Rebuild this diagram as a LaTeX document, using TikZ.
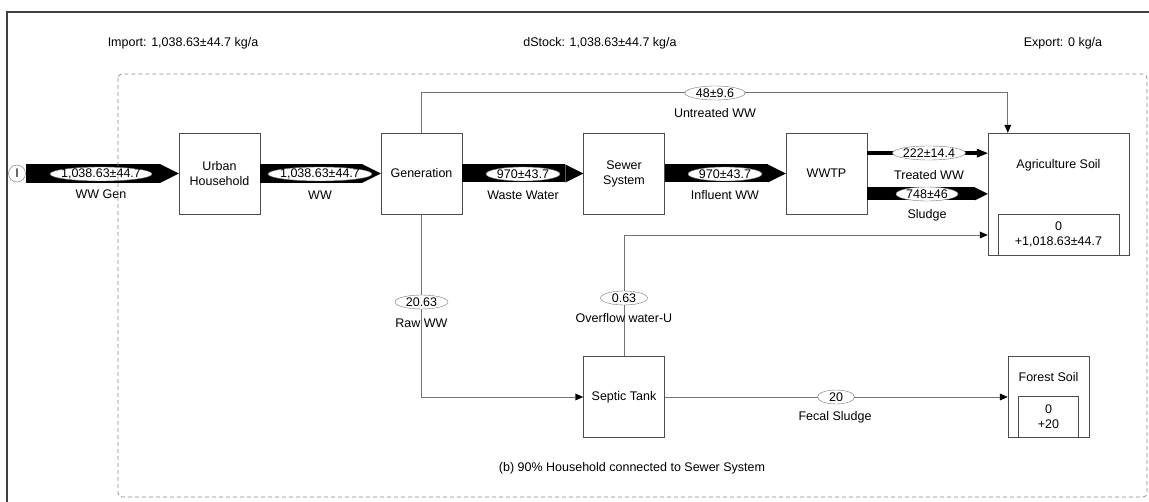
\documentclass[tikz,border=0pt]{standalone}
\usepackage{fontspec}
\setmainfont{Liberation Sans}
\usetikzlibrary{positioning,calc,arrows.meta,shapes.geometric}
\tikzset{
    every node/.style={font=\fontsize{12.5}{15}\selectfont},
    box/.style={draw=black!70, fill=white, minimum width=81pt, minimum height=81pt, inner sep=0pt, align=center},
    stockbox/.style={draw=black!70, fill=white, inner sep=0pt, align=center},
    val/.style={ellipse, draw=black!55, fill=white, inner xsep=-30pt, inner ysep=-10pt, minimum width=#1, minimum height=14pt},
    fatflow/.style={line width=#1, -{Triangle[length=#1, width=#1, line width=0pt]}},
    midflow/.style={line width=4.5pt, -{Triangle[length=11pt, width=9pt, line width=0pt]}},
    flow/.style={draw=black!55, line width=0.9pt, -{Triangle[length=8pt, width=7pt, line width=0pt, black]}},
}

\begin{document}
\begin{tikzpicture}[x=1pt, y=-1pt]
  \useasboundingbox (0,0) rectangle (1149,502);
  \draw[black!75, line width=1.2pt] (7,502) -- (7,12) -- (1149,12);
  \node (import) at (183,43) {Import: 1,038.63±44.7 kg/a};
  \node (dstock) at (600,43) {dStock: 1,038.63±44.7 kg/a};
  \node (export) at (1063,43) {Export: 0 kg/a};

  % processes
  \node[circle, draw=black!55, minimum size=17pt, inner sep=0pt] (imp) at (17,173.5) {I};
  \node[box] (house) at (219.5,173.5) {Urban\\Household};
  \node[box] (gen) at (421.5,173.5) {Generation};
  \node[box] (sewer) at (624,173.5) {Sewer\\System};
  \node[box] (wwtp) at (826.5,173.5) {WWTP};
  \node[box] (septic) at (624,397) {Septic Tank};
  \node[box, minimum width=141pt, minimum height=122pt] (agri) at (1058.5,194) {};
  \node (agri-t) at ($(agri.north)+(0,32)$) {Agriculture Soil};
  \node[stockbox, minimum width=121pt, minimum height=41pt, anchor=south] (agri-s) at (agri.south) {0\\+1,018.63±44.7};
  \node[box] (forest) at (1048.5,396.5) {};
  \node (forest-t) at ($(forest.north)+(0,21)$) {Forest Soil};
  \node[stockbox, minimum width=60pt, minimum height=41pt, anchor=south] (forest-s) at (forest.south) {0\\+20};

  % flows
  \coordinate (tw) at ($(wwtp.north east)!.25!(wwtp.south east)$);
  \coordinate (sl) at ($(wwtp.north east)!.75!(wwtp.south east)$);
  \draw[fatflow=19pt] (imp.east) -- (house.west);
  \draw[fatflow=19pt] (house.east) -- (gen.west);
  \draw[fatflow=18pt] (gen.east) -- (sewer.west);
  \draw[fatflow=18pt] (sewer.east) -- (wwtp.west);
  \draw[midflow] (tw) -- (tw -| agri.west);
  \draw[fatflow=13pt] (sl) -- (sl -| agri.west);
  \draw[flow] (gen.north) -- ++(0,-40) -| ($(agri.north west)+(20,0)$);
  \draw[flow] (gen.south) |- (septic.west);
  \draw[flow] (septic.north) |- ($(agri.west)+(0,41)$);
  \draw[flow] (septic.east) -- (septic.east -| forest.west);

  % values and names of the flows
  \node[val=102pt] (v-wwgen) at (101,174) {1,038.63±44.7};
  \node (l-wwgen) at (101,194) {WW Gen};
  \node[val=104pt] (v-ww) at (320,174) {1,038.63±44.7};
  \node (l-ww) at (320,195) {WW};
  \node[val=74pt] (v-waste) at (523,174) {970±43.7};
  \node (l-waste) at (523,195) {Waste Water};
  \node[val=74pt] (v-infl) at (725,174) {970±43.7};
  \node (l-infl) at (725,195) {Influent WW};
  \node[val=73pt] (v-treat) at (929,153) {222±14.4};
  \node (l-treat) at (929,175) {Treated WW};
  \node[val=62pt] (v-sludge) at (927,194) {748±46};
  \node (l-sludge) at (927,215) {Sludge};
  \node[val=60pt] (v-untr) at (715,93) {48±9.6};
  \node (l-untr) at (715,113) {Untreated WW};
  \node[val=53pt] (v-raw) at (421.5,302) {20.63};
  \node (l-raw) at (421.5,323) {Raw WW};
  \node[val=47pt] (v-over) at (624,298) {0.63};
  \node (l-over) at (624,318) {Overflow water-U};
  \node[val=37pt] (v-fecal) at (836,397) {20};
  \node (l-fecal) at (835,417) {Fecal Sludge};

  \node (caption) at (632,468) {(b) 90\% Household connected to Sewer System};
  % system boundary on top
  \draw[black!45, line width=0.8pt, dash pattern=on 4pt off 3pt, rounded corners=4pt] (118,74) rectangle (1147,497);
\end{tikzpicture}
\end{document}
